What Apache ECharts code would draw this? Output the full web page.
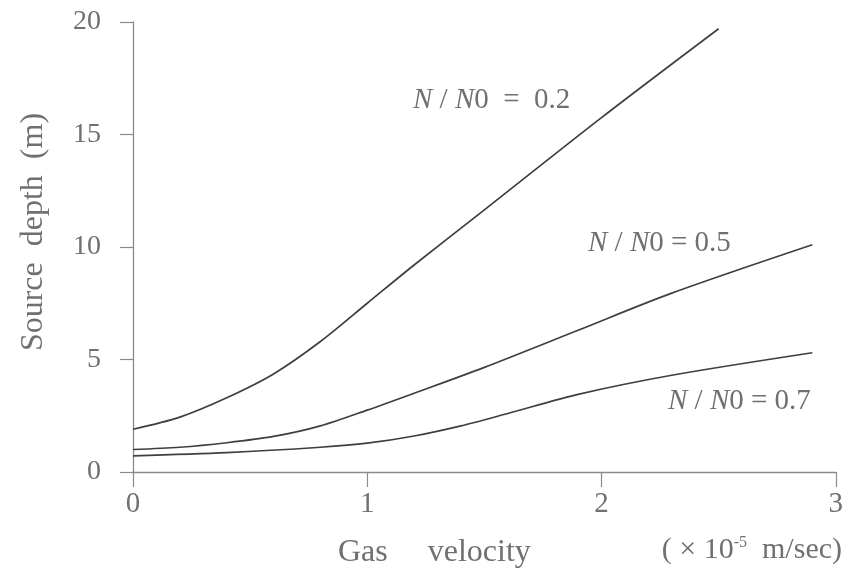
<!DOCTYPE html>
<html>
<head>
<meta charset="utf-8">
<script src="https://cdn.jsdelivr.net/npm/echarts@6/dist/echarts.min.js"></script>
<style>html,body{margin:0;padding:0;background:#fff}#c{width:846px;height:578px}</style>
</head>
<body>
<div id="c"></div>
<script>
const xTicks = [0, 1, 2, 3];
const yTicks = [0, 5, 10, 15, 20];

const x02 = [0, 0.2, 0.4, 0.6, 0.8, 1.0, 1.2, 1.5, 2.0, 2.5];
const y02 = [1.9, 2.44, 3.3, 4.36, 5.8, 7.5, 9.2, 11.65, 15.75, 19.7];

const x05 = [0, 0.2, 0.4, 0.6, 0.8, 1.0, 1.2, 1.5, 1.9, 2.3, 2.9];
const y05 = [1.0, 1.1, 1.3, 1.58, 2.05, 2.75, 3.5, 4.65, 6.3, 7.95, 10.1];

const x07 = [0, 0.4, 0.8, 1.0, 1.2, 1.4, 1.6, 1.9, 2.3, 2.9];
const y07 = [0.72, 0.86, 1.1, 1.28, 1.6, 2.05, 2.6, 3.45, 4.3, 5.3];

const labels = ['0.2', '0.5', '0.7'];

const serif = '"Liberation Serif", "DejaVu Serif", serif';
const txt = '#707070';
const lineColor = '#3f3f3f';

function pairs(xs, ys) { return xs.map((x, i) => [x, ys[i]]); }
function mkSeries(name, xs, ys) {
  return {
    name: name, type: 'line', smooth: 0.3, symbol: 'none',
    data: pairs(xs, ys),
    lineStyle: { color: lineColor, width: 1.7 }
  };
}

const chart = echarts.init(document.getElementById('c'), null, { renderer: 'canvas' });
const rich = {
  i: { fontFamily: serif, fontStyle: 'italic', fontSize: 29, fill: txt },
  n: { fontFamily: serif, fontSize: 29, fill: txt }
};
function curveLabel(v, gap, left, top) {
  return {
    type: 'text', left: left, top: top,
    style: { text: '{i|N}{n| / }{i|N}{n|0' + gap + '=' + gap + v + '}', rich: rich }
  };
}

chart.setOption({
  animation: false,
  backgroundColor: '#fff',
  grid: { left: 133, right: 8, top: 22, bottom: 106 },
  xAxis: {
    type: 'value', min: 0, max: 3, interval: 1,
    axisLine: { show: true, onZero: false, lineStyle: { color: '#8a8a8a', width: 1.3 } },
    axisTick: { show: true, inside: false, length: 15, lineStyle: { color: '#8a8a8a', width: 1.2 } },
    axisLabel: { fontFamily: serif, fontSize: 29, color: txt, margin: 18,
      formatter: v => xTicks.includes(v) ? String(v) : '' },
    splitLine: { show: false }
  },
  yAxis: {
    type: 'value', min: 0, max: 20, interval: 5,
    axisLine: { show: true, onZero: false, lineStyle: { color: '#8a8a8a', width: 1.3 } },
    axisTick: { show: true, inside: false, length: 13, lineStyle: { color: '#8a8a8a', width: 1.2 } },
    axisLabel: { fontFamily: serif, fontSize: 28, color: txt, margin: 32,
      formatter: v => yTicks.includes(v) ? String(v) : '' },
    splitLine: { show: false }
  },
  series: [
    mkSeries('N/N0=' + labels[0], x02, y02),
    mkSeries('N/N0=' + labels[1], x05, y05),
    mkSeries('N/N0=' + labels[2], x07, y07)
  ],
  graphic: [
    curveLabel(labels[0], '  ', 413, 86),
    curveLabel(labels[1], ' ', 588, 229),
    curveLabel(labels[2], ' ', 668, 387),
    { type: 'text', x: 34, y: 232, rotation: Math.PI / 2,
      style: { text: 'Source  depth  (m)', font: '32px ' + serif, fill: txt,
        align: 'center', verticalAlign: 'middle' } },
    { type: 'text', left: 338, top: 537,
      style: { text: 'Gas     velocity', font: '32px ' + serif, fill: txt } },
    { type: 'text', right: 4, top: 535,
      style: { text: '{p|( \u00d7 10}{s|-5}{p|  m/sec)}', rich: {
        p: { fontFamily: serif, fontSize: 30, fill: txt },
        s: { fontFamily: serif, fontSize: 16, fill: txt, verticalAlign: 'top', padding: [0, 0, 14, 0] }
      } } }
  ]
});
</script>
</body>
</html>
